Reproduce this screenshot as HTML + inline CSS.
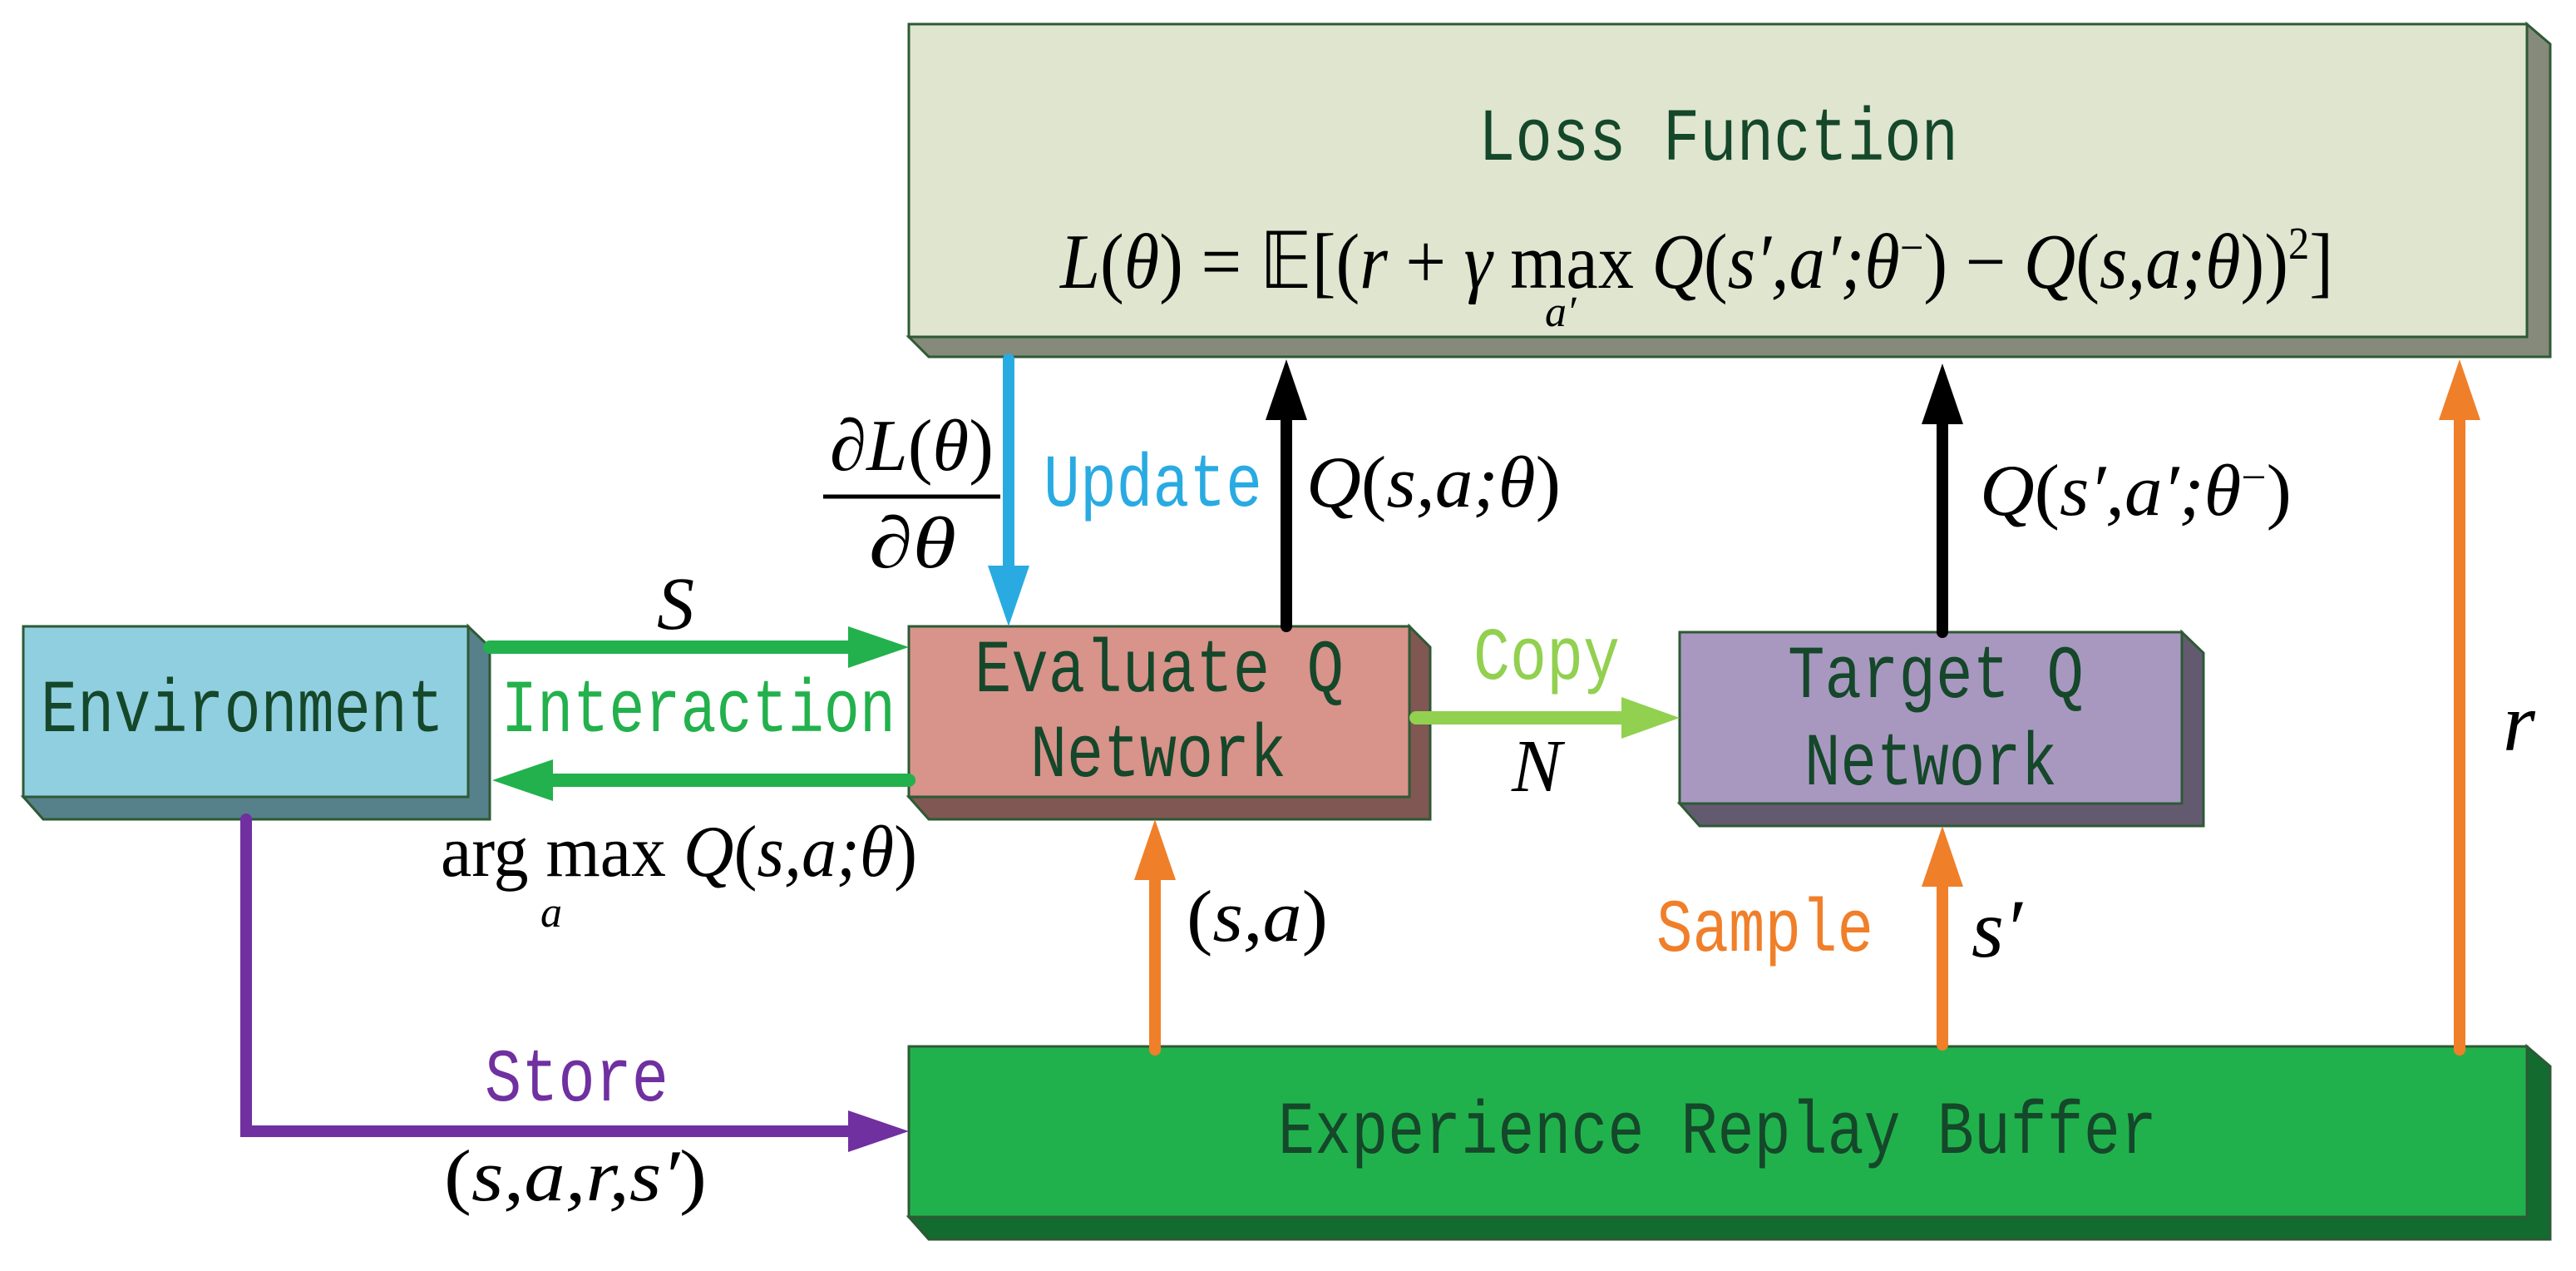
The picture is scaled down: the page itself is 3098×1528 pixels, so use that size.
<!DOCTYPE html>
<html><head><meta charset="utf-8"><style>
html,body{margin:0;padding:0;background:#fff}
svg{display:block}
.m{font-family:"Liberation Mono",monospace;fill:#15472a}
.s{font-family:"Liberation Serif",serif;font-style:italic;fill:#000}
.u{font-style:normal}
</style></head><body>
<svg width="3098" height="1528" viewBox="0 0 3098 1528" xmlns="http://www.w3.org/2000/svg">
<!-- Loss box -->
<polygon points="1093,405 3039,405 3039,29 3067,53 3067,429 1117,429" fill="#868a7a" stroke="#2d5a35" stroke-width="3"/>
<rect x="1093" y="29" width="1946" height="376" fill="#dfe5cf" stroke="#2d5a35" stroke-width="3"/>
<!-- Environment -->
<polygon points="28,958 563,958 563,753 589,778 589,985 52,985" fill="#56808a" stroke="#2d5a35" stroke-width="3"/>
<rect x="28" y="753" width="535" height="205" fill="#90cfe0" stroke="#2d5a35" stroke-width="3"/>
<!-- Eval -->
<polygon points="1093,958 1695,958 1695,753 1720,778 1720,985 1117,985" fill="#805752" stroke="#2d5a35" stroke-width="3"/>
<rect x="1093" y="753" width="602" height="205" fill="#d8938b" stroke="#2d5a35" stroke-width="3"/>
<!-- Target -->
<polygon points="2020,966 2624,966 2624,760 2650,785 2650,993 2044,993" fill="#645a70" stroke="#2d5a35" stroke-width="3"/>
<rect x="2020" y="760" width="604" height="206" fill="#a898c0" stroke="#2d5a35" stroke-width="3"/>
<!-- Buffer -->
<polygon points="1093,1463 3039,1463 3039,1258 3067,1282 3067,1490 1117,1490" fill="#136b30" stroke="#2d5a35" stroke-width="3"/>
<rect x="1093" y="1258" width="1946" height="205" fill="#21b14c" stroke="#2d5a35" stroke-width="3"/>

<!-- arrows -->
<g stroke-linecap="round">
<line x1="1213" y1="432" x2="1213" y2="690" stroke="#29abe2" stroke-width="14"/>
<line x1="1547" y1="753" x2="1547" y2="500" stroke="#000" stroke-width="14"/>
<line x1="2336" y1="760" x2="2336" y2="500" stroke="#000" stroke-width="14"/>
<line x1="2958" y1="1262" x2="2958" y2="500" stroke="#f07f2a" stroke-width="14"/>
<line x1="1389" y1="1262" x2="1389" y2="1050" stroke="#f07f2a" stroke-width="14"/>
<line x1="2336" y1="1256" x2="2336" y2="1058" stroke="#f07f2a" stroke-width="14"/>
<line x1="589" y1="778" x2="1030" y2="778" stroke="#22b14c" stroke-width="16"/>
<line x1="1093" y1="938" x2="660" y2="938" stroke="#22b14c" stroke-width="16"/>
<line x1="1703" y1="863" x2="1955" y2="863" stroke="#92d050" stroke-width="16"/>
<polyline points="296,985 296,1360 1030,1360" fill="none" stroke="#7030a0" stroke-width="14"/>
</g>
<polygon points="1188,680 1238,680 1213,753" fill="#29abe2"/>
<polygon points="1522,505 1572,505 1547,432" fill="#000"/>
<polygon points="2311,510 2361,510 2336,437" fill="#000"/>
<polygon points="2933,505 2983,505 2958,432" fill="#f07f2a"/>
<polygon points="1364,1058 1414,1058 1389,985" fill="#f07f2a"/>
<polygon points="2311,1066 2361,1066 2336,993" fill="#f07f2a"/>
<polygon points="1020,753 1020,803 1093,778" fill="#22b14c"/>
<polygon points="665,913 665,963 592,938" fill="#22b14c"/>
<polygon points="1950,838 1950,888 2020,863" fill="#92d050"/>
<polygon points="1020,1335 1020,1385 1093,1360" fill="#7030a0"/>

<!-- box labels -->
<text class="m" x="1778" y="192" font-size="90" textLength="577" lengthAdjust="spacingAndGlyphs">Loss Function</text>
<text class="m" x="49" y="879" font-size="90" textLength="485" lengthAdjust="spacingAndGlyphs">Environment</text>
<text class="m" x="1172" y="831" font-size="90" textLength="444" lengthAdjust="spacingAndGlyphs">Evaluate Q</text>
<text class="m" x="1239" y="933" font-size="90" textLength="308" lengthAdjust="spacingAndGlyphs">Network</text>
<text class="m" x="2150" y="838" font-size="90" textLength="356" lengthAdjust="spacingAndGlyphs">Target Q</text>
<text class="m" x="2170" y="943" font-size="90" textLength="304" lengthAdjust="spacingAndGlyphs">Network</text>
<text class="m" x="1537" y="1386" font-size="90" textLength="1057" lengthAdjust="spacingAndGlyphs">Experience Replay Buffer</text>
<!-- colored labels -->
<text class="m" x="603" y="879" font-size="90" textLength="474" lengthAdjust="spacingAndGlyphs" style="fill:#22b14c">Interaction</text>
<text class="m" x="1255" y="608" font-size="90" textLength="263" lengthAdjust="spacingAndGlyphs" style="fill:#29abe2">Update</text>
<text class="m" x="1772" y="816" font-size="90" textLength="176" lengthAdjust="spacingAndGlyphs" style="fill:#92d050">Copy</text>
<text class="m" x="1992" y="1143" font-size="90" textLength="261" lengthAdjust="spacingAndGlyphs" style="fill:#f07f2a">Sample</text>
<text class="m" x="583" y="1323" font-size="90" textLength="221" lengthAdjust="spacingAndGlyphs" style="fill:#7030a0">Store</text>

<!-- math -->
<text class="s" x="1275" y="346" font-size="94" textLength="1531" lengthAdjust="spacingAndGlyphs">L<tspan class="u">(</tspan>θ<tspan class="u">) = 𝔼[(</tspan>r<tspan class="u"> + </tspan>γ<tspan class="u"> max </tspan>Q<tspan class="u">(</tspan>s′,a′;θ<tspan class="u" dy="-30" font-size="55">−</tspan><tspan class="u" dy="30">) − </tspan>Q<tspan class="u">(</tspan>s,a;θ<tspan class="u">))</tspan><tspan class="u" dy="-35" font-size="55">2</tspan><tspan class="u" dy="35">]</tspan></text>
<text class="s" x="1858" y="392" font-size="52">a′</text>
<text class="s" x="998" y="565" font-size="88" textLength="197" lengthAdjust="spacingAndGlyphs">∂L<tspan class="u">(</tspan>θ<tspan class="u">)</tspan></text>
<line x1="990" y1="597" x2="1203" y2="597" stroke="#000" stroke-width="5"/>
<text class="s" x="1045" y="682" font-size="88" textLength="105" lengthAdjust="spacingAndGlyphs">∂θ</text>
<text class="s" x="1571" y="609" font-size="88" textLength="306" lengthAdjust="spacingAndGlyphs">Q<tspan class="u">(</tspan>s,a;θ<tspan class="u">)</tspan></text>
<text class="s" x="2381" y="619" font-size="88" textLength="375" lengthAdjust="spacingAndGlyphs">Q<tspan class="u">(</tspan>s′,a′;θ<tspan class="u" dy="-28" font-size="52">−</tspan><tspan class="u" dy="28">)</tspan></text>
<text class="s" x="790" y="756" font-size="90">S</text>
<text class="s" x="1818" y="951" font-size="90">N</text>
<text class="s" x="3010" y="902" font-size="100">r</text>
<text class="s" x="530" y="1053" font-size="88" textLength="573" lengthAdjust="spacingAndGlyphs"><tspan class="u">arg max </tspan>Q<tspan class="u">(</tspan>s,a;θ<tspan class="u">)</tspan></text>
<text class="s" x="650" y="1114" font-size="52">a</text>
<text class="s" x="1427" y="1131" font-size="88" textLength="170" lengthAdjust="spacingAndGlyphs"><tspan class="u">(</tspan>s,a<tspan class="u">)</tspan></text>
<text class="s" x="2371" y="1150" font-size="100">s′</text>
<text class="s" x="534" y="1443" font-size="88" textLength="316" lengthAdjust="spacingAndGlyphs"><tspan class="u">(</tspan>s,a,r,s′<tspan class="u">)</tspan></text>
</svg>
</body></html>
